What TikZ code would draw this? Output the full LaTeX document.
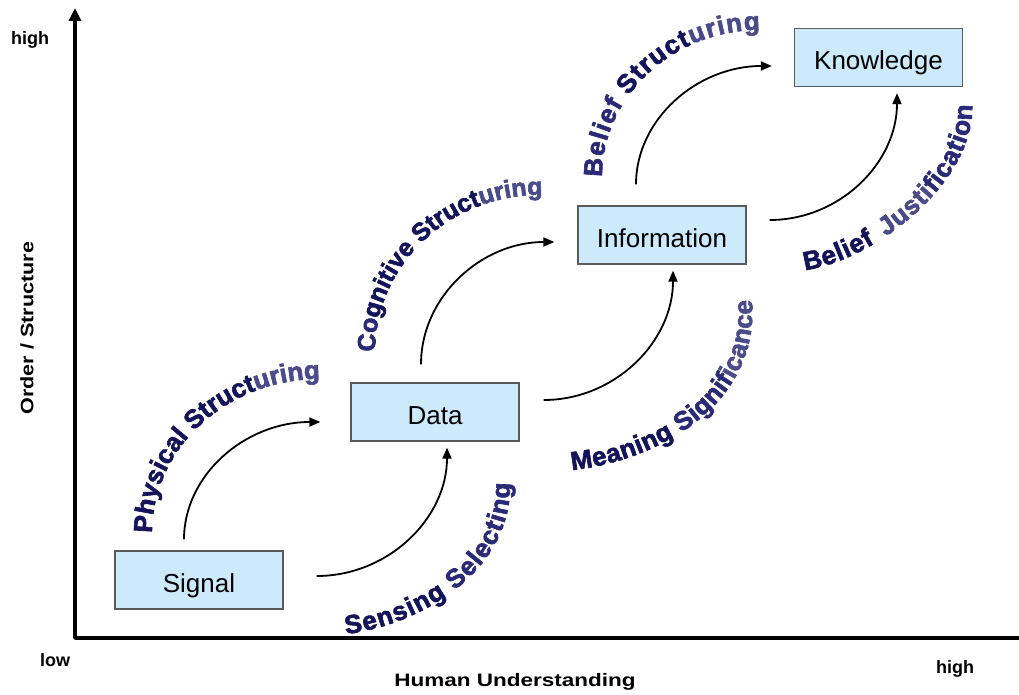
\documentclass[tikz,border=0pt]{standalone}
\usepackage{fontspec}
\setmainfont{Liberation Sans}
\newfontfamily\wordart{Liberation Sans Bold}[FakeBold=2.5]
\usetikzlibrary{arrows.meta,calc,decorations.text}
\definecolor{boxfill}{HTML}{CCEAFB}
\definecolor{boxline}{HTML}{5A5A5A}
\definecolor{navyA}{HTML}{14145A}
\definecolor{navyB}{HTML}{2A2A76}
\definecolor{navyC}{HTML}{4B4B8A}
\newcommand\lblfmt{\wordart\fontsize{26}{26}\selectfont}
\newcommand\lblfmtsm{\wordart\fontsize{25}{25}\selectfont}
\begin{document}
\begin{tikzpicture}[x=1pt,y=-1pt,
  stage/.style={draw=boxline, line width=1.3pt, fill=boxfill, minimum width=168pt, minimum height=58pt, inner sep=0pt, text height=24pt, text depth=0pt, font=\fontsize{26}{26}\selectfont},
  flow/.style={line width=1.8pt, -{Triangle[length=11pt,width=9pt]}},
  axis/.style={line width=3.5pt, line join=round},
  axlabel/.style={font=\fontsize{18}{18}\selectfont\bfseries, inner sep=0pt}
]
\useasboundingbox (0,0) rectangle (1019,695);

% axes
\coordinate (origin) at (75,638);
\coordinate (ytop) at (75,8);
\coordinate (xend) at (1019,638);
\draw[axis, -{Triangle[length=13pt,width=12pt]}] (xend) -- (origin) -- (ytop);

\node[axlabel] (yhigh) at (30,40) {high};
\node[axlabel, rotate=90] (ylabel) at (27,328) {\scalebox{1.2}[1]{Order / Structure}};
\node[axlabel] (xlow) at (55,660) {low};
\node[axlabel] (xhigh) at (955,669) {high};
\node[axlabel] (xlabel) at (515,682) {\scalebox{1.25}[1]{Human Understanding}};

% stages
\node[stage] (signal) at (199,580) {Signal};
\node[stage] (data) at (435,412) {Data};
\node[stage] (info) at (662,235) {Information};
\node[stage] (know) at (878.5,57.5) {Knowledge};

% connectors: up then right
\coordinate (a1s) at ($(signal.north)+(-15,-11)$);
\coordinate (a1e) at ($(data.west)+(-30,10)$);
\draw[flow] (a1s) .. controls ($(a1s)!0.55!(a1s|-a1e)$) and ($(a1e)!0.55!(a1s|-a1e)$) .. (a1e);
\coordinate (a3s) at ($(data.north)+(-14,-18)$);
\coordinate (a3e) at ($(info.west)+(-23,7)$);
\draw[flow] (a3s) .. controls ($(a3s)!0.55!(a3s|-a3e)$) and ($(a3e)!0.55!(a3s|-a3e)$) .. (a3e);
\coordinate (a5s) at ($(info.north)+(-26,-21)$);
\coordinate (a5e) at ($(know.west)+(-22,8.5)$);
\draw[flow] (a5s) .. controls ($(a5s)!0.55!(a5s|-a5e)$) and ($(a5e)!0.55!(a5s|-a5e)$) .. (a5e);

% connectors: right then up
\coordinate (a2s) at ($(signal.east)+(33,-4)$);
\coordinate (a2e) at ($(data.south)+(12,6)$);
\draw[flow] (a2s) .. controls ($(a2s)!0.55!(a2e|-a2s)$) and ($(a2e)!0.55!(a2e|-a2s)$) .. (a2e);
\coordinate (a4s) at ($(data.east)+(24,-12)$);
\coordinate (a4e) at ($(info.south)+(11,6)$);
\draw[flow] (a4s) .. controls ($(a4s)!0.55!(a4e|-a4s)$) and ($(a4e)!0.55!(a4e|-a4s)$) .. (a4e);
\coordinate (a6s) at ($(info.east)+(23,-15)$);
\coordinate (a6e) at ($(know.south)+(18.5,6)$);
\draw[flow] (a6s) .. controls ($(a6s)!0.55!(a6e|-a6s)$) and ($(a6e)!0.55!(a6e|-a6s)$) .. (a6e);

% curved labels
\path[decorate, decoration={text along path, text align={fit to path},
  text={|\lblfmt\color{navyA}|Physical Struct|\lblfmt\color{navyC}|uring}}]
  (152,533) .. controls (152,448) and (227,379) .. (320,379);
\path[decorate, decoration={text along path, text align={fit to path},
  text={|\lblfmtsm\color{navyB}|Co|\lblfmtsm\color{navyA}|gnitive Struct|\lblfmtsm\color{navyC}|uring}}]
  (375,352) .. controls (375,266) and (448,195) .. (540,195);
\path[decorate, decoration={text along path, text align={fit to path},
  text={|\lblfmt\color{navyB}|Belief |\lblfmt\color{navyA}|Struct|\lblfmt\color{navyC}|uring}}]
  (602,177) .. controls (602,96) and (673,30) .. (760,30);
\path[decorate, decoration={text along path, text align={fit to path},
  text={|\lblfmt\color{navyA}|Sensing |\lblfmt\color{navyB}|Selecting}}]
  (346,634) .. controls (415,626) and (512,575) .. (510,483);
\path[decorate, decoration={text along path, text align={fit to path},
  text={|\lblfmt\color{navyA}|Meaning |\lblfmt\color{navyB}|Signif|\lblfmt\color{navyC}|icance}}]
  (572,470) .. controls (650,462) and (760,410) .. (752,300);
\path[decorate, decoration={text along path, text align={fit to path},
  text={|\lblfmt\color{navyA}|Belief {\hspace{3pt}}|\lblfmt\color{navyC}|Justi|\lblfmt\color{navyB}|fication}}]
  (805,270) .. controls (870,262) and (975,185) .. (972,105);
\end{tikzpicture}
\end{document}
